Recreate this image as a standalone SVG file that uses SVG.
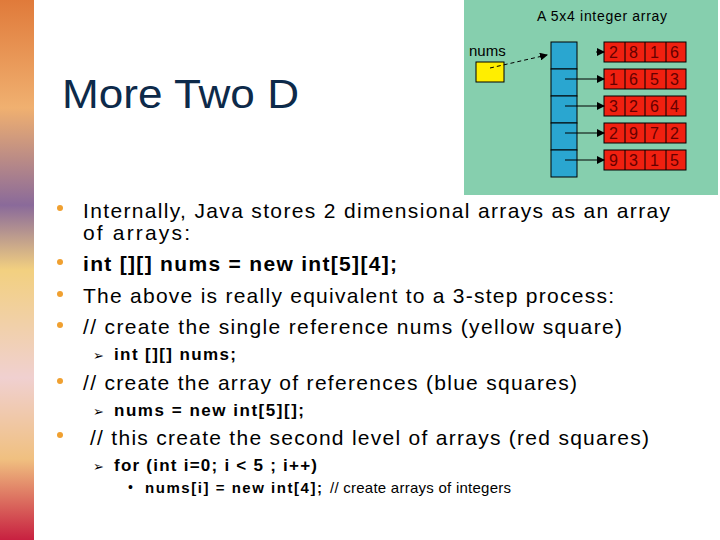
<svg xmlns="http://www.w3.org/2000/svg" width="720" height="540" viewBox="0 0 720 540">
<defs>
<linearGradient id="strip" x1="0" y1="0" x2="0" y2="1">
<stop offset="0" stop-color="#e07a3a"/><stop offset="0.2" stop-color="#f0b070"/><stop offset="0.38" stop-color="#8a6a9a"/><stop offset="0.5" stop-color="#f2d080"/><stop offset="0.7" stop-color="#f0d0d0"/><stop offset="0.85" stop-color="#f0c080"/><stop offset="1" stop-color="#c82040"/>
</linearGradient>
<marker id="ah" markerWidth="8" markerHeight="8" refX="7" refY="4" orient="auto" markerUnits="userSpaceOnUse"><path d="M0,0 L8,4 L0,8 Z" fill="#000"/></marker>
</defs>
<style>
.t{font-family:"Liberation Sans",Arial,sans-serif;fill:#000}
.b{fill:#f0a030}
.blue{fill:#2aa6d0;stroke:#000;stroke-width:1}
.red{fill:#f02010;stroke:#000;stroke-width:1}
.n{font-family:"Liberation Sans",Arial,sans-serif;font-size:16px;fill:#600}
</style>
<rect width="720" height="540" fill="#fff"/>
<rect x="0" y="0" width="34" height="540" fill="url(#strip)"/>
<text class="t" x="62" y="108" font-size="40" textLength="237" lengthAdjust="spacingAndGlyphs" style="fill:#0d2a4a">More Two D</text>
<g id="figure">
<rect x="464" y="0" width="254" height="195" fill="#86cfae"/>
<text class="t" x="537" y="21" font-size="14" textLength="130">A 5x4 integer array</text>
<text class="t" x="469" y="56" font-size="15">nums</text>
<rect x="476" y="62" width="28" height="20" fill="#ffee00" stroke="#000"/>
<g id="refs">
<rect class="blue" x="551" y="42" width="26" height="27"/>
<rect class="blue" x="551" y="69" width="26" height="27"/>
<rect class="blue" x="551" y="96" width="26" height="27"/>
<rect class="blue" x="551" y="123" width="26" height="27"/>
<rect class="blue" x="551" y="150" width="26" height="27"/>
</g>
<g id="rows">
<g><rect class="red" x="604" y="42" width="82" height="20"/><path d="M625,42V62M645,42V62M666,42V62" stroke="#000"/><text class="n" x="609" y="58">2</text><text class="n" x="629" y="58">8</text><text class="n" x="650" y="58">1</text><text class="n" x="670" y="58">6</text></g>
<g><rect class="red" x="604" y="69" width="82" height="20"/><path d="M625,69V89M645,69V89M666,69V89" stroke="#000"/><text class="n" x="609" y="85">1</text><text class="n" x="629" y="85">6</text><text class="n" x="650" y="85">5</text><text class="n" x="670" y="85">3</text></g>
<g><rect class="red" x="604" y="96" width="82" height="20"/><path d="M625,96V116M645,96V116M666,96V116" stroke="#000"/><text class="n" x="609" y="112">3</text><text class="n" x="629" y="112">2</text><text class="n" x="650" y="112">6</text><text class="n" x="670" y="112">4</text></g>
<g><rect class="red" x="604" y="123" width="82" height="20"/><path d="M625,123V143M645,123V143M666,123V143" stroke="#000"/><text class="n" x="609" y="139">2</text><text class="n" x="629" y="139">9</text><text class="n" x="650" y="139">7</text><text class="n" x="670" y="139">2</text></g>
<g><rect class="red" x="604" y="150" width="82" height="20"/><path d="M625,150V170M645,150V170M666,150V170" stroke="#000"/><text class="n" x="609" y="166">9</text><text class="n" x="629" y="166">3</text><text class="n" x="650" y="166">1</text><text class="n" x="670" y="166">5</text></g>
</g>
<g id="connectors" stroke="#000" stroke-width="1" fill="none">
<path d="M490,68 L547,55" stroke-dasharray="4,3" marker-end="url(#ah)"/>
<path d="M596,52 L604,52" marker-end="url(#ah)"/>
<path d="M565,79 L604,79" marker-end="url(#ah)"/>
<path d="M565,106 L604,106" marker-end="url(#ah)"/>
<path d="M565,133 L604,133" marker-end="url(#ah)"/>
<path d="M565,160 L604,160" marker-end="url(#ah)"/>
</g>
</g>
<g id="text">
<circle class="b" cx="60" cy="208" r="3"/>
<text class="t" x="83" y="218" font-size="21" textLength="587">Internally, Java stores 2 dimensional arrays as an array</text>
<text class="t" x="83" y="240" font-size="21" textLength="107">of arrays:</text>
<circle class="b" cx="60" cy="262" r="3"/>
<text class="t" x="83" y="271" font-size="21" font-weight="bold" textLength="314">int [][] nums = new int[5][4];</text>
<circle class="b" cx="60" cy="294" r="3"/>
<text class="t" x="83" y="303" font-size="21" textLength="531">The above is really equivalent to a 3-step process:</text>
<circle class="b" cx="60" cy="325" r="3"/>
<text class="t" x="83" y="334" font-size="21" textLength="539">// create the single reference nums (yellow square)</text>
<text class="t" x="93" y="360" font-size="13">➢</text>
<text class="t" x="114" y="360" font-size="17" font-weight="bold" textLength="122">int [][] nums;</text>
<circle class="b" cx="60" cy="381" r="3"/>
<text class="t" x="83" y="390" font-size="21" textLength="494">// create the array of references (blue squares)</text>
<text class="t" x="93" y="416" font-size="13">➢</text>
<text class="t" x="114" y="416" font-size="17" font-weight="bold" textLength="190">nums = new int[5][];</text>
<circle class="b" cx="60" cy="435" r="3"/>
<text class="t" x="90" y="445" font-size="21" textLength="559">// this create the second level of arrays (red squares)</text>
<text class="t" x="93" y="471" font-size="13">➢</text>
<text class="t" x="114" y="471" font-size="17" font-weight="bold" textLength="203">for (int i=0; i &lt; 5 ; i++)</text>
<text class="t" x="128" y="492" font-size="14">•</text>
<text class="t" x="145" y="493" font-size="15" font-weight="bold" textLength="177">nums[i] = new int[4];</text>
<text class="t" x="330" y="493" font-size="15" textLength="181">// create arrays of integers</text>
</g>
</svg>
